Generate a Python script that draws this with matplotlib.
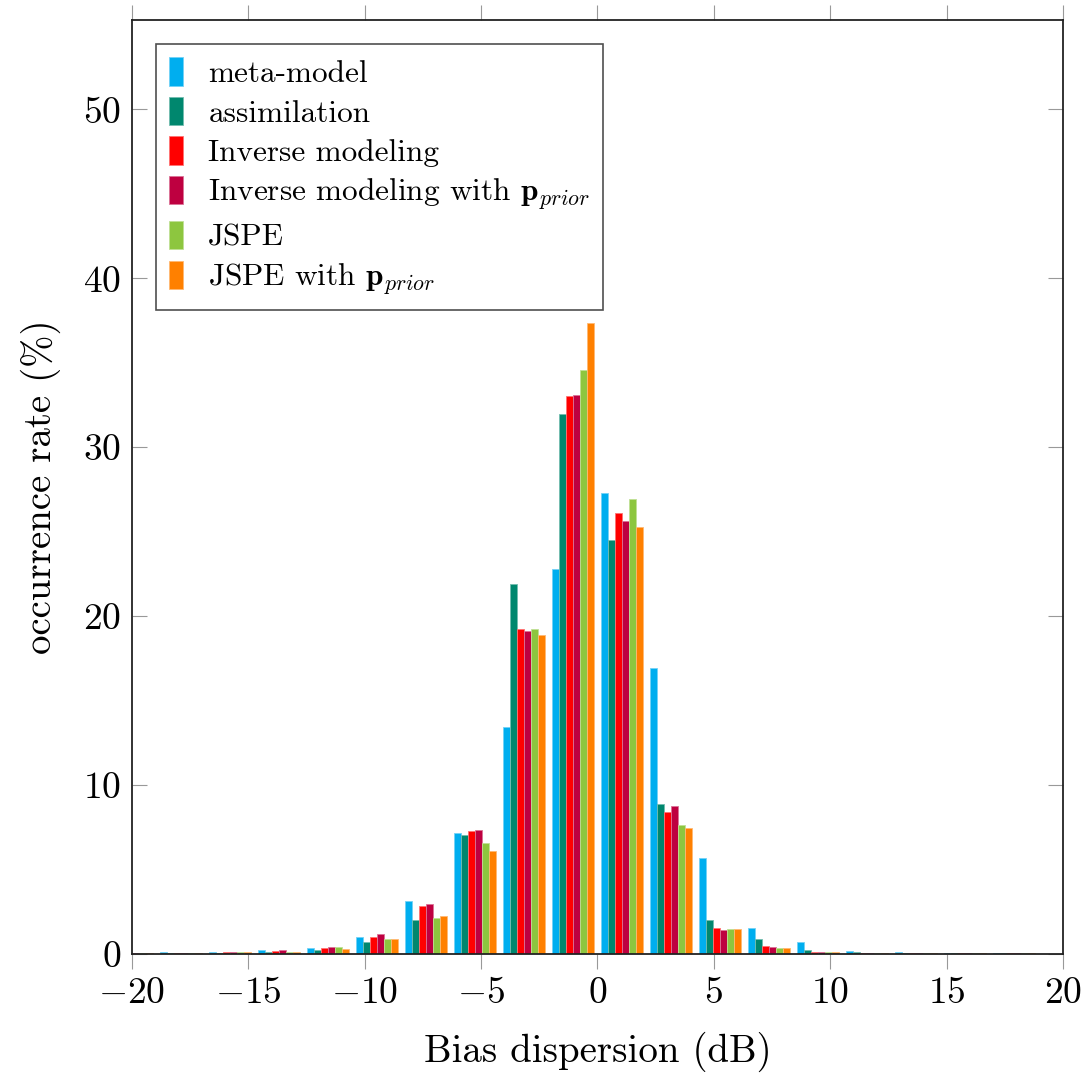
import numpy as np
import matplotlib
matplotlib.use("Agg")
import matplotlib.pyplot as plt
from matplotlib.colors import to_rgb

plt.rcParams['font.family'] = 'serif'
plt.rcParams['font.serif'] = ['cmr10']
plt.rcParams['mathtext.fontset'] = 'cm'
plt.rcParams['axes.formatter.use_mathtext'] = True
plt.rcParams['axes.unicode_minus'] = True

# histogram bin centres (dB), 20 bins over [-20, 20]
bin_centers = np.linspace(-20, 20, 20)

labels = ["meta-model", "assimilation", "Inverse modeling",
          r"Inverse modeling with $\mathbf{p}_{prior}$", "JSPE",
          r"JSPE with $\mathbf{p}_{prior}$"]
colors = ["#00AEEF", "#00876E", "#FF0000", "#BE0040", "#8DC63F", "#FF8000"]

# occurrence rate (%) per bin
meta_model = [0.05, 0.10, 0.14, 0.26, 0.37, 0.99, 3.15, 7.18, 13.45, 22.78,
              27.31, 16.94, 5.68, 1.56, 0.71, 0.20, 0.10, 0.08, 0.06, 0.0]
assimilation = [0.05, 0.06, 0.08, 0.12, 0.22, 0.71, 2.03, 7.06, 21.9, 31.95,
                24.5, 8.89, 2.01, 0.91, 0.24, 0.12, 0.06, 0.06, 0.06, 0.0]
inverse = [0.05, 0.08, 0.14, 0.18, 0.37, 1.0, 2.84, 7.3, 19.23, 33.05,
           26.11, 8.4, 1.56, 0.49, 0.1, 0.05, 0.04, 0.04, 0.04, 0.0]
inverse_prior = [0.06, 0.08, 0.14, 0.22, 0.43, 1.16, 2.96, 7.36, 19.11, 33.09,
                 25.62, 8.78, 1.44, 0.43, 0.1, 0.05, 0.04, 0.04, 0.04, 0.0]
jspe = [0.06, 0.06, 0.1, 0.14, 0.43, 0.89, 2.15, 6.59, 19.27, 34.6,
        26.96, 7.63, 1.5, 0.37, 0.1, 0.05, 0.04, 0.04, 0.04, 0.0]
jspe_prior = [0.06, 0.06, 0.1, 0.14, 0.32, 0.89, 2.27, 6.12, 18.88, 37.37,
              25.3, 7.47, 1.47, 0.37, 0.1, 0.05, 0.04, 0.04, 0.04, 0.0]

series = [meta_model, assimilation, inverse, inverse_prior, jspe, jspe_prior]

fig = plt.figure(figsize=(10.91, 10.79), dpi=100)
ax = fig.add_axes([0.121, 0.1158, 0.8533, 0.8657])

bar_w = 0.296
for i, (vals, c, lab) in enumerate(zip(series, colors, labels)):
    edge = tuple(0.55 * np.array(to_rgb(c)) + 0.45)
    offs = (i - 2.5) * bar_w
    ax.bar(bin_centers + offs, vals, width=bar_w, color=c, edgecolor=edge,
           linewidth=0.6, label=lab, zorder=2)

ax.set_xlim(-20, 20)
ax.set_ylim(0, 55.3)
ax.set_xticks(np.arange(-20, 21, 5))
ax.set_yticks(np.arange(0, 51, 10))

ax.tick_params(axis='x', direction='out', length=11, width=0.8, color='#999999',
               top=True, labelsize=27, pad=5)
ax.tick_params(axis='y', direction='in', length=11, width=0.8, color='#999999',
               right=True, labelsize=27, pad=8)
for s in ax.spines.values():
    s.set_linewidth(1.3)
    s.set_color('#222222')
    s.set_zorder(3)

ax.set_xlabel("Bias dispersion (dB)", fontsize=28, labelpad=16)
ax.set_ylabel("occurrence rate (%)", fontsize=28, labelpad=16)

leg = ax.legend(loc='upper left', fontsize=22.5, frameon=True, fancybox=False,
                edgecolor='#222222', handlelength=0.45, handleheight=1.02,
                handletextpad=0.8, labelspacing=0.28, borderaxespad=0.77,
                borderpad=0.42)
leg.get_frame().set_linewidth(1.2)

fig.savefig("out.png", dpi=100)
